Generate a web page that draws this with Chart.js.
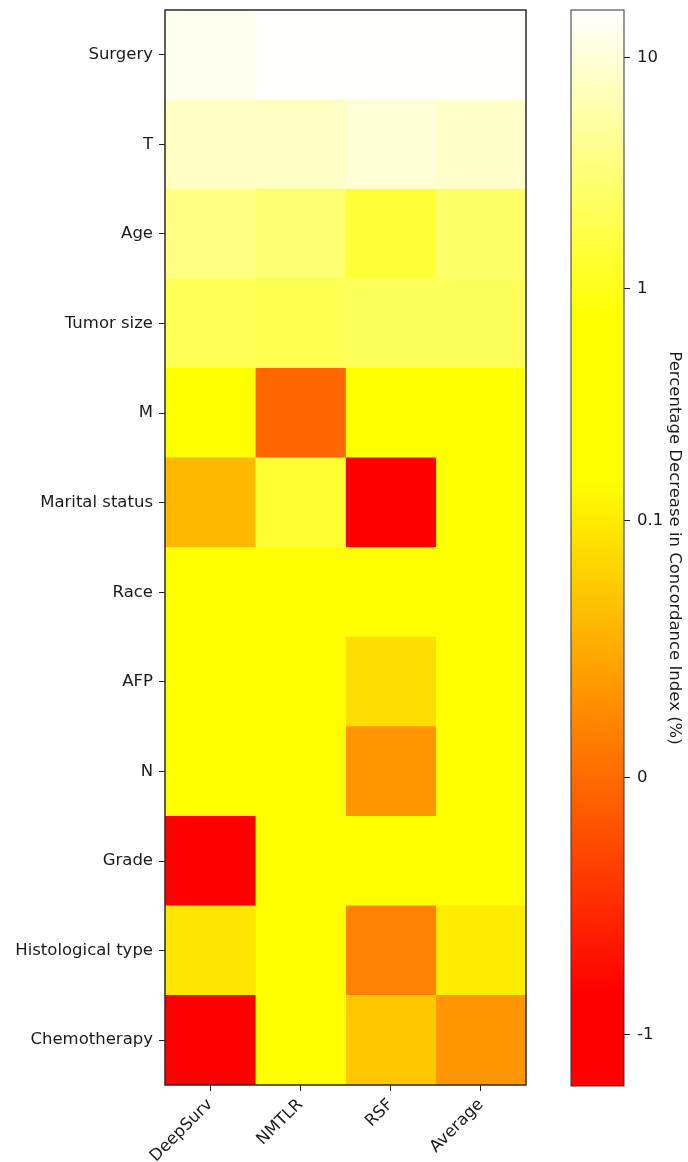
<!DOCTYPE html>
<html>
<head>
<meta charset="utf-8">
<script src="https://cdn.jsdelivr.net/npm/chart.js@4.4.0/dist/chart.umd.min.js"></script>
<style>
  html, body { margin: 0; padding: 0; background: #fff; overflow: hidden; }
  #heat { position: absolute; left: 0; top: 0; }
  #cbar { position: absolute; left: 560px; top: 0; }
</style>
</head>
<body>
<canvas id="heat" width="530" height="1162"></canvas>
<canvas id="cbar" width="128" height="1162"></canvas>
<script>
const features = ["Surgery", "T", "Age", "Tumor size", "M", "Marital status", "Race", "AFP", "N", "Grade", "Histological type", "Chemotherapy"];
const models = ["DeepSurv", "NMTLR", "RSF", "Average"];

// percentage decrease in C-index when a feature is removed, one array per model
const deepSurv = [13.4, 7.9, 3.6, 2.1, 0.4, 0.06, 0.4, 0.4, 0.4, -1.0, 0.097, -1.0];
const nmtlr = [15.9, 7.9, 3.0, 2.0, -0.03, 1.36, 0.4, 0.4, 0.4, 0.4, 0.4, 0.4];
const rsf = [15.9, 9.9, 1.45, 2.2, 0.4, -1.0, 0.4, 0.089, 0.033, 0.4, 0.0175, 0.072];
const average = [15.9, 8.4, 2.64, 2.2, 0.4, 0.4, 0.4, 0.4, 0.4, 0.4, 0.1, 0.033];

const cbarTicks = [-1, 0, 0.1, 1, 10];
const vmin = -1.2;
const vmax = 16;

const FONT = { family: "'DejaVu Sans', sans-serif", size: 16.5 };
const INK = "#1a1a1a";

// red -> yellow -> white, by position along the colour bar
const cmapStops = [
  [0, [255, 0, 0]],
  [0.086, [255, 0, 0]],
  [0.563, [255, 255, 0]],
  [0.714, [255, 255, 0]],
  [1, [255, 255, 255]],
];

// symlog-like norm: linear below 0.1, log above
function toT(v) {
  const linThresh = 0.1, linScale = 1.11;
  if (v >= linThresh) return linScale + Math.log10(v / linThresh);
  if (v >= 0) return linScale * v / linThresh;
  return linScale * v;
}

function colorFor(v) {
  const t0 = toT(vmin), t1 = toT(vmax);
  const f = Math.min(1, Math.max(0, (toT(v) - t0) / (t1 - t0)));
  for (let i = 1; i < cmapStops.length; i++) {
    const [f0, c0] = cmapStops[i - 1];
    const [f1, c1] = cmapStops[i];
    if (f <= f1) {
      const k = (f - f0) / (f1 - f0);
      return "rgb(" + c0.map((c, j) => Math.round(c + (c1[j] - c) * k)).join(",") + ")";
    }
  }
  return "rgb(255,255,255)";
}

function gradientFill(context) {
  const chart = context.chart;
  const y = chart.scales.y;
  if (!y) return "rgb(255,255,0)";
  const yBottom = y.getPixelForValue(toT(vmin));
  const yTop = y.getPixelForValue(toT(vmax));
  if (!Number.isFinite(yBottom) || !Number.isFinite(yTop) || yBottom === yTop) return "rgb(255,255,0)";
  const g = chart.ctx.createLinearGradient(0, yBottom, 0, yTop);
  cmapStops.forEach(([f, c]) => g.addColorStop(f, "rgb(" + c.join(",") + ")"));
  return g;
}

function noPadding(scale) {
  scale.paddingTop = 0;
  scale.paddingBottom = 0;
  scale.paddingLeft = 0;
  scale.paddingRight = 0;
}

const frame = {
  id: "frame",
  afterDatasetsDraw(chart, args, opts) {
    const { ctx, chartArea: a } = chart;
    ctx.save();
    ctx.strokeStyle = opts.color;
    ctx.lineWidth = opts.width;
    ctx.strokeRect(a.left, a.top, a.right - a.left, a.bottom - a.top);
    ctx.restore();
  },
};

const heatData = [deepSurv, nmtlr, rsf, average];

new Chart(document.getElementById("heat"), {
  type: "bar",
  data: {
    labels: features,
    datasets: models.map((m, i) => ({
      label: m,
      data: features.map(() => 1),
      backgroundColor: heatData[i].map(colorFor),
      borderWidth: 0,
      barPercentage: 1,
      categoryPercentage: 1,
    })),
  },
  options: {
    indexAxis: "y",
    responsive: false,
    devicePixelRatio: 1,
    animation: false,
    layout: { padding: { top: 10, right: 4, left: 0, bottom: 0 } },
    plugins: {
      legend: { display: false },
      tooltip: { enabled: false },
      frame: { color: "#2a2a2a", width: 1.5 },
    },
    scales: {
      x: {
        stacked: true,
        min: 0,
        max: models.length,
        afterBuildTicks: (s) => { s.ticks = models.map((m, i) => ({ value: i + 0.5 })); },
        afterFit: (s) => { s.height = 77; noPadding(s); },
        ticks: {
          callback: (v) => models[Math.floor(v)],
          minRotation: 45,
          maxRotation: 45,
          autoSkip: false,
          padding: 4,
          font: FONT,
          color: INK,
        },
        grid: { drawOnChartArea: false, tickLength: 6, color: "#222", offset: false },
        border: { display: false },
      },
      y: {
        stacked: true,
        afterFit: (s) => { s.width = 165; noPadding(s); },
        ticks: { padding: 6, font: FONT, color: INK },
        grid: { drawOnChartArea: false, tickLength: 6, color: "#222", offset: false },
        border: { display: false },
      },
    },
  },
  plugins: [frame],
});

new Chart(document.getElementById("cbar"), {
  type: "bar",
  data: {
    labels: [""],
    datasets: [{
      data: [[toT(vmin), toT(vmax)]],
      backgroundColor: gradientFill,
      borderWidth: 0,
      barPercentage: 1,
      categoryPercentage: 1,
    }],
  },
  options: {
    responsive: false,
    devicePixelRatio: 1,
    animation: false,
    layout: { padding: { left: 11, top: 10, bottom: 76, right: 0 } },
    plugins: {
      legend: { display: false },
      tooltip: { enabled: false },
      frame: { color: "#333", width: 1 },
    },
    scales: {
      x: { display: false },
      y: {
        position: "right",
        min: toT(vmin),
        max: toT(vmax),
        afterBuildTicks: (s) => { s.ticks = cbarTicks.map((v) => ({ value: toT(v) })); },
        afterFit: (s) => { s.width = 64; noPadding(s); },
        ticks: {
          callback: (v, i) => String(cbarTicks[i]),
          padding: 7,
          font: FONT,
          color: INK,
        },
        title: {
          display: true,
          text: "Percentage Decrease in Concordance Index (%)",
          font: FONT,
          color: INK,
          padding: { top: 4, bottom: 4 },
        },
        grid: { drawOnChartArea: false, tickLength: 6, color: "#222" },
        border: { display: false },
      },
    },
  },
  plugins: [frame],
});
</script>
</body>
</html>
